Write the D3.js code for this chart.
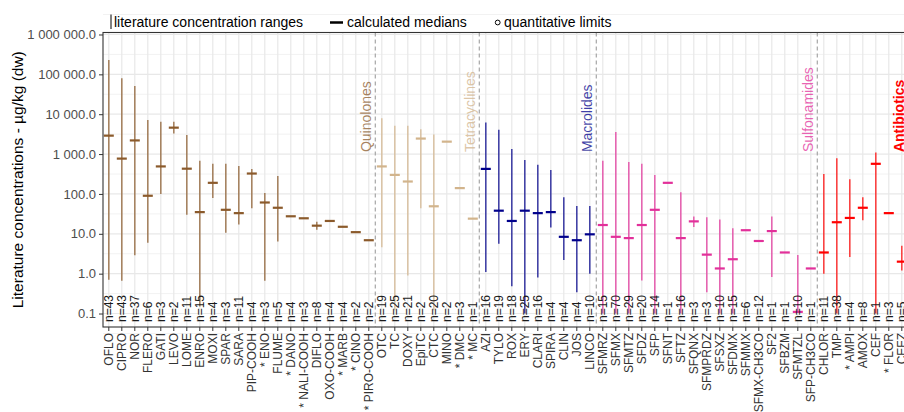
<!DOCTYPE html>
<html>
<head>
<meta charset="utf-8">
<script src="https://cdn.jsdelivr.net/npm/d3@7"></script>
<style>
    body { margin: 0; background: #ffffff; font-family: "Liberation Sans", Arial, sans-serif; }
</style>
</head>
<body>
<div id="conc_chart"></div>
<script>

// substances, in plot order
let substances = [
    "OFLO", "CIPRO", "NOR", "FLERO", "GATI", "LEVO", "LOME", "ENRO", "MOXI", "SPAR", "SARA",
    "PIP-COOH", "* ENO", "FLUME", "* DANO", "* NALI-COOH", "DIFLO", "OXO-COOH", "* MARB", "* CINO", "* PIRO-COOH",
    "OTC", "TC", "DOXY", "EpiTC", "CTC", "MINO", "* DMC", "* MC",
    "AZI", "TYLO", "ROX", "ERY", "CLARI", "SPIRA", "CLIN", "JOS", "LINCO",
    "SFMRZ", "SFMX", "SFMTZ", "SFDZ", "SFP", "SFNT", "SFTZ", "SFQNX", "SFMPRDZ", "SFSXZ", "SFDMX", "SFMMX",
    "SFMX-CH3CO", "SF2", "SFBZM", "SFMTZL", "SFP-CH3CO",
    "CHLOR", "TMP", "* AMPI", "AMOX", "CEF", "* FLOR", "CEFZ"
];

let group_names = ["Quinolones", "Tetracyclines", "Macrolides", "Sulfonamides", "Antibiotics"];
let group_sizes = [21, 8, 9, 17, 7];

let sample_counts = [
    43, 43, 37, 6, 3, 2, 11, 15, 4, 3, 11, 4, 3, 5, 4, 3, 8, 4, 4, 2, 2,
    19, 25, 21, 2, 20, 2, 3, 1,
    16, 19, 18, 25, 16, 4, 4, 4, 10,
    15, 70, 29, 20, 14, 1, 16, 3, 3, 10, 15, 6, 12, 1, 1, 10, 1,
    11, 38, 4, 8, 1, 3, 5
];

let medians = [
    2900, 770, 2200, 90, 490, 4600, 430, 35, 190, 40, 33, 325, 61, 45, 27.5, 24.5, 16, 21, 15, 11, 6.9,
    490, 300, 205, 2450, 49, 2050, 140, 24,
    425, 38, 21, 38, 33, 35, 8.4, 6.9, 9.7,
    16.6, 8.4, 7.8, 16.6, 40, 190, 7.8, 20.5, 3.0, 1.35, 2.3, 12.3, 6.6, 11.7, 3.4, 0.11, 1.35,
    3.4, 19.5, 25, 45, 570, 33, 2.0
];

let range_min = [
    0.7, 0.66, 2.9, 6, 99, 3300, 30, 0.15, 79, 10.7, 17, 44, 0.66, 6.4, null, null, 12.6, null, null, null, null,
    4.6, 0.12, 0.9, 44, 0.12, null, null, null,
    1.1, 5.6, 0.48, 0.1, 0.8, 14.4, 2.2, 0.34, 1.0,
    0.1, 0.1, 0.1, 0.67, 0.1, null, 0.1, 14.8, 0.34, 0.1, 0.1, null, null, 0.82, null, 0.11, null,
    1.0, 0.1, 2.6, 22, 0.1, null, 1.2
];

let range_max = [
    230000, 80000, 51000, 7200, 6500, 6500, 3000, 680, 570, 570, 500, 420, 105, 280, null, null, 20, null, null, null, null,
    7900, 5100, 5100, 4200, 3100, null, null, null,
    6200, 4050, 1350, 715, 540, 400, 83, 50, 50,
    680, 3600, 630, 570, 300, null, 111, 27, 26, 23, 13.8, null, null, 27, null, 2.95, null,
    317, 790, 235, 83, 1100, null, 5
];

let y_tick_values = [0.1, 1, 10, 100, 1000, 10000, 100000, 1000000];
let y_tick_labels = ["0.1", "1.0", "10.0", "100.0", "1 000.0", "10 000.0", "100 000.0", "1 000 000.0"];

let legend_labels = ["literature concentration ranges", "calculated medians", "quantitative limits"];


function draw_conc_chart() {

    let chart_width = 904;
    let chart_height = 412;

    let panel_left = 103;
    let panel_top = 32.5;
    let panel_bottom = 327;
    let band = 13.0;
    let first_x = 108.8;

    let group_colors = ["#8b5a2b", "#d2b48c", "#00008b", "#e2309a", "#ff0000"];

    let svg = d3.select("#conc_chart")
                .append("svg")
                .attr("width", chart_width)
                .attr("height", chart_height);

    let xScale = d3.scaleBand()
                    .domain(substances)
                    .range([first_x - band / 2, first_x - band / 2 + band * substances.length])
                    .padding(0);

    let cx = function(d) { return xScale(d) + xScale.bandwidth() / 2; };

    let yScale = d3.scaleLog()
                    .domain([0.0459, 1.122e6])
                    .range([panel_bottom, panel_top]);

    // group of each substance
    let sub_group = [];
    group_sizes.forEach(function(n, g) {
        for (let i = 0; i < n; i++) sub_group.push(g);
    });

    let rows = substances.map(function(s, i) {
        return { name: s, n: sample_counts[i], med: medians[i], lo: range_min[i], hi: range_max[i], g: sub_group[i] };
    });

    // grid
    let minor_vals = y_tick_values.map(function(v) { return v * Math.sqrt(10); }).concat([0.1 / Math.sqrt(10)]);
    svg.append("g").selectAll("line")
        .data(minor_vals)
        .enter().append("line")
        .attr("x1", panel_left).attr("x2", chart_width)
        .attr("y1", function(d) { return yScale(d); })
        .attr("y2", function(d) { return yScale(d); })
        .attr("stroke", "#f2f2f2").attr("stroke-width", 1);

    svg.append("g").selectAll("line")
        .data(y_tick_values)
        .enter().append("line")
        .attr("x1", panel_left).attr("x2", chart_width)
        .attr("y1", function(d) { return yScale(d); })
        .attr("y2", function(d) { return yScale(d); })
        .attr("stroke", "#e8e8e8").attr("stroke-width", 1.2);

    svg.append("g").selectAll("line")
        .data(substances)
        .enter().append("line")
        .attr("x1", cx).attr("x2", cx)
        .attr("y1", panel_top).attr("y2", panel_bottom)
        .attr("stroke", "#e8e8e8").attr("stroke-width", 1.2);

    // group separators
    let sep_idx = [];
    let acc = 0;
    group_sizes.forEach(function(n) { acc += n; sep_idx.push(acc); });
    svg.append("g").selectAll("line")
        .data(sep_idx.slice(0, 4))
        .enter().append("line")
        .attr("x1", function(d) { return xScale(substances[d]); })
        .attr("x2", function(d) { return xScale(substances[d]); })
        .attr("y1", panel_top).attr("y2", panel_bottom)
        .attr("stroke", "#a6a6a6").attr("stroke-width", 1.2)
        .attr("stroke-dasharray", "4,3");

    // group labels
    svg.append("g").selectAll("text")
        .data(group_names)
        .enter().append("text")
        .attr("transform", function(d, g) {
            let last = substances[sep_idx[g] - 1];
            return "translate(" + (cx(last) + 2) + "," + (yScale(1000) - 2) + ") rotate(-90)";
        })
        .attr("text-anchor", "start")
        .style("font-size", "14px")
        .style("font-weight", function(d, g) { return g === 4 ? "bold" : "normal"; })
        .attr("fill", function(d, g) { return group_colors[g]; })
        .attr("fill-opacity", function(d, g) { return g === 4 ? 1 : 0.75; })
        .text(function(d) { return d; });

    // ranges
    svg.append("g").selectAll("line")
        .data(rows.filter(function(d) { return d.lo !== null; }))
        .enter().append("line")
        .attr("x1", function(d) { return cx(d.name); })
        .attr("x2", function(d) { return cx(d.name); })
        .attr("y1", function(d) { return yScale(d.lo); })
        .attr("y2", function(d) { return yScale(d.hi); })
        .attr("stroke", function(d) { return group_colors[d.g]; })
        .attr("stroke-opacity", 0.72)
        .attr("stroke-width", 1.6);

    // medians
    svg.append("g").selectAll("line")
        .data(rows)
        .enter().append("line")
        .attr("x1", function(d) { return cx(d.name) - 5; })
        .attr("x2", function(d) { return cx(d.name) + 5; })
        .attr("y1", function(d) { return yScale(d.med); })
        .attr("y2", function(d) { return yScale(d.med); })
        .attr("stroke", function(d) { return group_colors[d.g]; })
        .attr("stroke-width", 2.2);

    // n labels
    svg.append("g").selectAll("text")
        .data(rows)
        .enter().append("text")
        .attr("transform", function(d) {
            return "translate(" + cx(d.name) + "," + (panel_bottom - 5) + ") rotate(-90)";
        })
        .attr("dy", "0.36em")
        .attr("text-anchor", "start")
        .style("font-size", "12px")
        .attr("fill", "#1a1a1a")
        .text(function(d) { return "n=" + d.n; });

    // panel border
    svg.append("rect")
        .attr("x", panel_left).attr("y", panel_top)
        .attr("width", chart_width + 10 - panel_left).attr("height", panel_bottom - panel_top)
        .attr("fill", "none").attr("stroke", "#333333").attr("stroke-width", 1.1);

    // y axis
    let y_axis = svg.append("g")
        .attr("transform", "translate(" + panel_left + ",0)")
        .call(d3.axisLeft(yScale).tickValues(y_tick_values).tickSize(4).tickPadding(3)
              .tickFormat(function(d, i) { return y_tick_labels[i]; }));
    y_axis.select(".domain").remove();
    y_axis.selectAll("line").attr("stroke", "#333333");
    y_axis.selectAll("text").style("font-size", "13px").style("font-family", "Liberation Sans, Arial, sans-serif").attr("fill", "#4d4d4d");

    // x axis
    let x_axis = svg.append("g")
        .attr("transform", "translate(0," + panel_bottom + ")")
        .call(d3.axisBottom(xScale).tickSize(4).tickSizeOuter(0));
    x_axis.select(".domain").remove();
    x_axis.selectAll("line").attr("stroke", "#333333");
    x_axis.selectAll("text")
        .style("font-size", "12px")
        .style("font-family", "Liberation Sans, Arial, sans-serif")
        .attr("fill", "#333333")
        .attr("text-anchor", "end")
        .attr("transform", "rotate(-90)")
        .attr("x", -6)
        .attr("y", 0)
        .attr("dy", "0.36em");

    // y title
    svg.append("text")
        .attr("transform", "translate(23," + ((panel_top + panel_bottom) / 2) + ") rotate(-90)")
        .attr("text-anchor", "middle")
        .style("font-size", "15.5px")
        .attr("fill", "#000000")
        .text("Literature concentrations - \u00b5g/kg (dw)");

    // legend
    let legend = svg.append("g").style("font-size", "14px");
    legend.append("line")
        .attr("x1", 111).attr("x2", 111).attr("y1", 14.5).attr("y2", 29)
        .attr("stroke", "#555555").attr("stroke-width", 1.5);
    legend.append("text").attr("x", 114).attr("y", 27).text(legend_labels[0]);

    legend.append("line")
        .attr("x1", 330).attr("x2", 343).attr("y1", 22.5).attr("y2", 22.5)
        .attr("stroke", "#000000").attr("stroke-width", 2.5);
    legend.append("text").attr("x", 347).attr("y", 27).text(legend_labels[1]);

    legend.append("circle")
        .attr("cx", 497.7).attr("cy", 22.5).attr("r", 2.4)
        .attr("fill", "#ffffff").attr("stroke", "#000000").attr("stroke-width", 1);
    legend.append("text").attr("x", 504).attr("y", 27).text(legend_labels[2]);

}

draw_conc_chart();

</script>
</body>
</html>
